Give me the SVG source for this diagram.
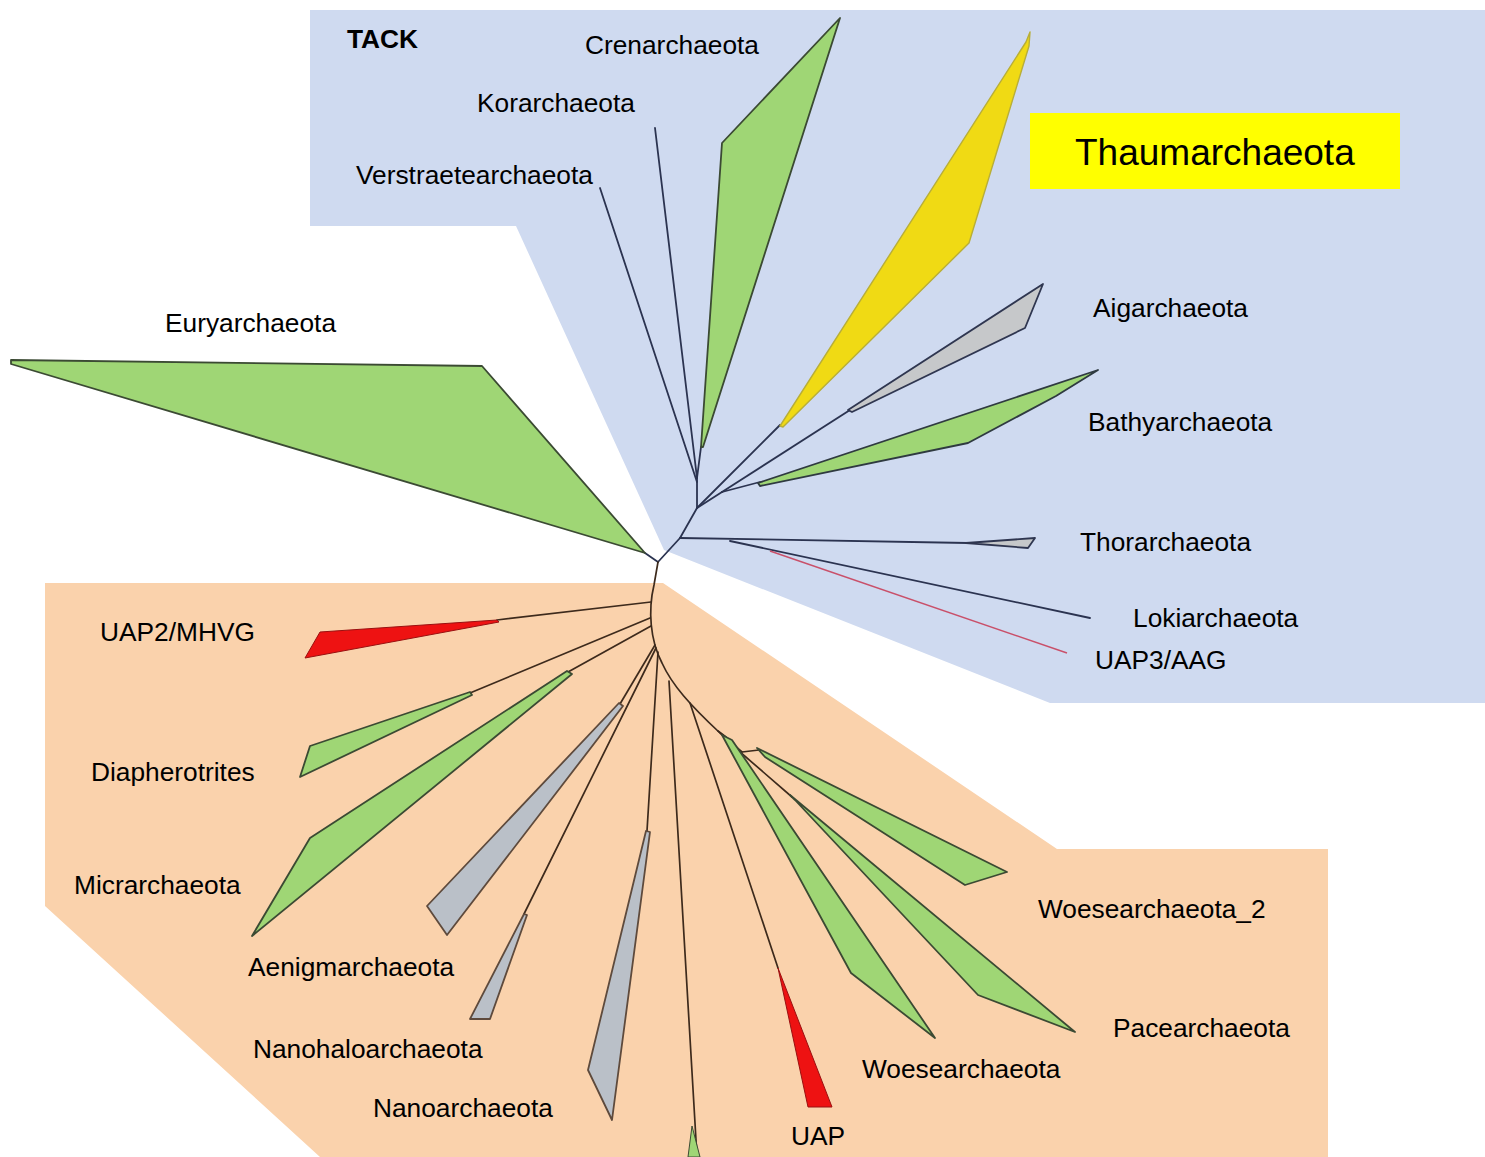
<svg xmlns="http://www.w3.org/2000/svg" width="1485" height="1157" viewBox="0 0 1485 1157">
<style>
text{font-family:"Liberation Sans",Arial,sans-serif;font-size:26.3px;fill:#000}
.tk{fill:none;stroke:#2B3350;stroke-width:1.8;stroke-linecap:round}
.or{fill:none;stroke:#3D2A1C;stroke-width:1.7;stroke-linecap:round}
.gr{fill:#9FD675;stroke:#3B4A33;stroke-width:1.8;stroke-linejoin:round}
.gy{fill:#BAC0C8;stroke:#5E4A3C;stroke-width:1.8;stroke-linejoin:round}
.gyb{fill:#C6C8CA;stroke:#2F3650;stroke-width:1.8;stroke-linejoin:round}
.rd{fill:#EE1212;stroke:#9A1010;stroke-width:1;stroke-linejoin:round}
</style>
<rect width="1485" height="1157" fill="#FFFFFF"/>
<g id="regions">
<polygon id="tack-region" points="310,10 1485,10 1485,703 1050,703 664,550 516,226 310,226" fill="#CFDAF0"/>
<polygon id="dpann-region" points="45,583 663,583 1057,849 1328,849 1328,1157 320,1157 45,906" fill="#FAD2AC"/>
</g>
<g id="connectors">
<line class="tk" x1="658" y1="562" x2="680" y2="538"/>
<line class="tk" x1="680" y1="538" x2="697" y2="508"/>
<line class="tk" x1="697" y1="508" x2="697" y2="478"/>
<line class="tk" x1="697" y1="478" x2="655" y2="128"/>
<line class="tk" x1="697" y1="482" x2="600" y2="188"/>
<line class="tk" x1="697" y1="478" x2="701" y2="447"/>
<line class="tk" x1="697" y1="508" x2="780" y2="425"/>
<line class="tk" x1="697" y1="508" x2="722" y2="492"/>
<line class="tk" x1="722" y1="492" x2="850" y2="410"/>
<line class="tk" x1="722" y1="492" x2="760" y2="482"/>
<line class="tk" x1="680" y1="538" x2="968" y2="543"/>
<line class="tk" x1="730" y1="541" x2="1090" y2="618"/>
<line x1="770" y1="551" x2="1067" y2="653" stroke="#C9506A" stroke-width="1.5"/>
<line class="tk" x1="645" y1="553" x2="658" y2="562"/>
<path class="or" d="M658,562 L654,585 C648,610 650,640 662,663 C672,685 690,705 720,733 L742,752"/>
<line class="or" x1="651" y1="602" x2="497" y2="620"/>
<line class="or" x1="650" y1="618" x2="470" y2="693"/>
<line class="or" x1="651" y1="626" x2="568" y2="672"/>
<line class="or" x1="655" y1="645" x2="620" y2="704"/>
<line class="or" x1="656" y1="648" x2="524" y2="914"/>
<line class="or" x1="658" y1="652" x2="647" y2="831"/>
<line class="or" x1="669" y1="681" x2="697" y2="1157"/>
<line class="or" x1="690" y1="703" x2="778" y2="968"/>
<line class="or" x1="718" y1="731" x2="726" y2="737"/>
<line class="or" x1="732" y1="745" x2="792" y2="797"/>
<line class="or" x1="742" y1="752" x2="759" y2="750"/>
</g>
<g id="euryarchaeota">
<polygon class="gr" points="11,360 482,366 645,553 11,364"/>
<text x="165" y="332">Euryarchaeota</text>
</g>
<g id="tack-label"><text x="347" y="48" font-weight="bold">TACK</text></g>
<g id="crenarchaeota">
<polygon class="gr" points="701,447 722,143 840,18 703,447"/>
<text x="585" y="54">Crenarchaeota</text>
</g>
<g id="korarchaeota"><text x="477" y="112">Korarchaeota</text></g>
<g id="verstraetearchaeota"><text x="356" y="184">Verstraetearchaeota</text></g>
<g id="thaumarchaeota">
<polygon points="780,426 1026,42 1030,32 1029,46 969,243 783,427" fill="#F0DA14" stroke="#B8AE38" stroke-width="1.4" stroke-linejoin="round"/>
<rect x="1030" y="113" width="370" height="76" fill="#FFFF00"/>
<text x="1075" y="165" style="font-size:37px">Thaumarchaeota</text>
</g>
<g id="aigarchaeota">
<polygon class="gyb" points="848,410 1043,284 1025,328 852,412"/>
<text x="1093" y="317">Aigarchaeota</text>
</g>
<g id="bathyarchaeota">
<polygon class="gr" points="758,483 1098,370 1056,396 968,443 760,486" style="stroke:#2F3A40"/>
<text x="1088" y="431">Bathyarchaeota</text>
</g>
<g id="thorarchaeota">
<polygon class="gyb" points="966,543 1035,538 1028,548"/>
<text x="1080" y="551">Thorarchaeota</text>
</g>
<g id="lokiarchaeota"><text x="1133" y="627">Lokiarchaeota</text></g>
<g id="uap3-aag"><text x="1095" y="669">UAP3/AAG</text></g>
<g id="uap2-mhvg">
<polygon class="rd" points="497,620 320,632 305,658 499,622"/>
<text x="100" y="641">UAP2/MHVG</text>
</g>
<g id="diapherotrites">
<polygon class="gr" points="470,692 310,746 300,777 472,695"/>
<text x="91" y="781">Diapherotrites</text>
</g>
<g id="micrarchaeota">
<polygon class="gr" points="567,671 310,838 252,936 572,674"/>
<text x="74" y="894">Micrarchaeota</text>
</g>
<g id="aenigmarchaeota">
<polygon class="gy" points="619,703 427,906 447,935 623,706"/>
<text x="248" y="976">Aenigmarchaeota</text>
</g>
<g id="nanohaloarchaeota">
<polygon class="gy" points="524,914 470,1019 490,1019 527,915"/>
<text x="253" y="1058">Nanohaloarchaeota</text>
</g>
<g id="nanoarchaeota">
<polygon class="gy" points="646,831 588,1070 612,1120 650,832"/>
<text x="373" y="1117">Nanoarchaeota</text>
</g>
<g id="bottom-clade">
<polygon class="gr" points="692,1126 688,1157 700,1157" style="stroke-width:1"/>
</g>
<g id="uap">
<polygon class="rd" points="778,968 808,1107 832,1107"/>
<text x="791" y="1145">UAP</text>
</g>
<g id="woesearchaeota">
<polygon class="gr" points="722,735 851,973 935,1038 732,740"/>
<text x="862" y="1078">Woesearchaeota</text>
</g>
<g id="pacearchaeota">
<polygon class="gr" points="790,795 1075,1032 978,995 795,800"/>
<text x="1113" y="1037">Pacearchaeota</text>
</g>
<g id="woesearchaeota-2">
<polygon class="gr" points="757,748 1007,872 965,885 765,757"/>
<text x="1038" y="918">Woesearchaeota_2</text>
</g>
</svg>
